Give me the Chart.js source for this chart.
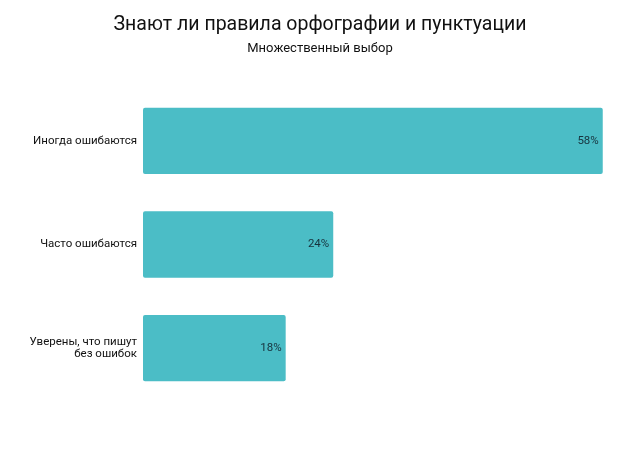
<!DOCTYPE html>
<html lang="ru">
<head>
    <meta charset="UTF-8">
    <title>Знают ли правила орфографии и пунктуации</title>
    <script src="https://cdn.jsdelivr.net/npm/chart.js"></script>
    <style>
        body {
            margin: 0;
            background: #fff;
        }
        .chart-box {
            width: 640px;
            height: 454px;
        }
    </style>
</head>
<body>
    <div class="chart-box">
        <canvas id="spellChart"></canvas>
    </div>

    <script>
        // Data
        const categories = [
            'Иногда ошибаются',
            'Часто ошибаются',
            ['Уверены, что пишут', 'без ошибок']
        ];
        const shares = [58, 24, 18];

        // Draws the percentage at the inner end of each bar
        const valueLabels = {
            id: 'valueLabels',
            afterDatasetsDraw(chart) {
                const ctx = chart.ctx;
                const meta = chart.getDatasetMeta(0);
                ctx.save();
                ctx.font = '11.5px Roboto';
                ctx.fillStyle = '#17323d';
                ctx.textAlign = 'right';
                ctx.textBaseline = 'middle';
                meta.data.forEach((bar, i) => {
                    ctx.fillText(shares[i] + '%', bar.x - 4, bar.y);
                });
                ctx.restore();
            }
        };

        const ctx = document.getElementById('spellChart').getContext('2d');
        new Chart(ctx, {
            type: 'bar',
            data: {
                labels: categories,
                datasets: [{
                    data: shares,
                    backgroundColor: '#4bbdc6',
                    borderRadius: 2,
                    borderSkipped: false,
                    categoryPercentage: 0.64,
                    barPercentage: 1
                }]
            },
            options: {
                indexAxis: 'y',
                responsive: true,
                maintainAspectRatio: false,
                animation: false,
                layout: {
                    padding: { top: 0, right: 0, bottom: 54, left: 0 }
                },
                scales: {
                    x: {
                        display: false,
                        min: 0,
                        max: 62.7
                    },
                    y: {
                        grid: { display: false, drawTicks: false },
                        border: { display: false },
                        ticks: {
                            color: '#111',
                            font: { family: 'Roboto', size: 11.5, lineHeight: 1.05 },
                            padding: 6
                        },
                        afterFit(scale) {
                            scale.width = 143;
                        }
                    }
                },
                plugins: {
                    legend: { display: false },
                    tooltip: { enabled: false },
                    title: {
                        display: true,
                        text: 'Знают ли правила орфографии и пунктуации',
                        color: '#111',
                        font: { family: 'Roboto', size: 19.5, weight: 'normal' },
                        padding: { top: 13, bottom: 2 }
                    },
                    subtitle: {
                        display: true,
                        text: 'Множественный выбор',
                        color: '#111',
                        font: { family: 'Roboto', size: 13 },
                        padding: { top: 3, bottom: 32 }
                    }
                }
            },
            plugins: [valueLabels]
        });
    </script>
</body>
</html>
